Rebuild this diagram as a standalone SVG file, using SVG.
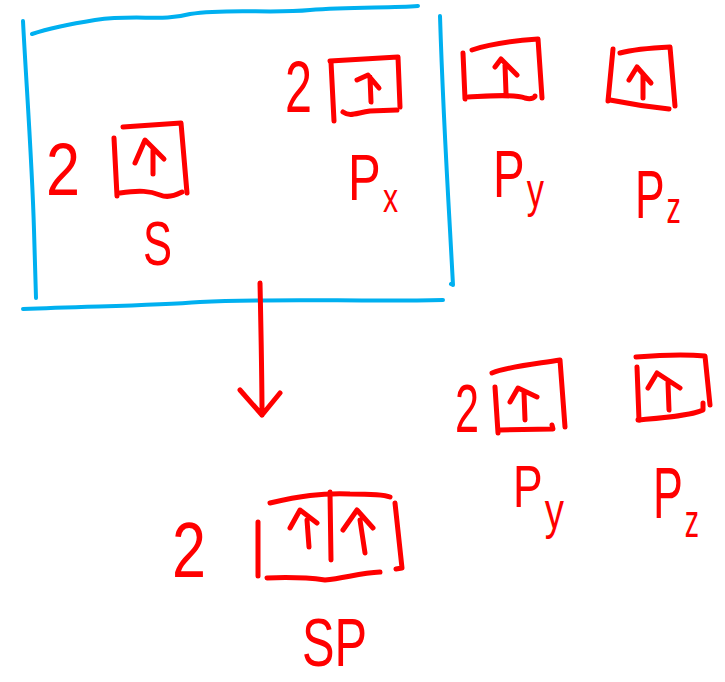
<svg xmlns="http://www.w3.org/2000/svg" width="725" height="682" viewBox="0 0 725 682">
<style>
.r{fill:none;stroke:#ff0000;stroke-width:5;stroke-linecap:round;stroke-linejoin:round}
.b{fill:none;stroke:#00b0f0;stroke-width:4;stroke-linecap:round;stroke-linejoin:round}
text{fill:#ff0000;font-family:"Liberation Sans","DejaVu Sans",sans-serif}
</style>
<rect width="725" height="682" fill="#ffffff"/>
<g id="group-box">
<path class="b" d="M32,34 C50,28 70,24 95,20 C140,14 160,22 190,14 C230,8 270,14 310,10 C350,7 390,8 418,6"/>
<path class="b" d="M23,21 C26,80 32,160 34,230 L36,298"/>
<path class="b" d="M23,309 C90,306 150,306 200,302 C280,298 360,302 443,300"/>
<path class="b" d="M440,16 C442,80 446,160 450,230 L453,285 L451,284"/>
</g>
<g id="orbital-s">
<text x="46" y="195" font-size="74" textLength="34" lengthAdjust="spacingAndGlyphs">2</text>
<path class="r" d="M114,138 L117,196"/>
<path class="r" d="M123,127 L181,123 L187,193"/>
<path class="r" d="M120,193 C140,190 150,191 160,195 C170,199 178,194 182,192"/>
<path class="r" d="M153,150 L153,174 M135,163 L145,140 L164,159"/>
<text x="143" y="265" font-size="63" textLength="29" lengthAdjust="spacingAndGlyphs">S</text>
</g>
<g id="orbital-px">
<text x="285" y="112" font-size="72" textLength="27" lengthAdjust="spacingAndGlyphs">2</text>
<path class="r" d="M331,62 L334,121"/>
<path class="r" d="M330,61 L398,57 L400,107"/>
<path class="r" d="M343,112 C350,117 356,113 370,111 L397,110"/>
<path class="r" d="M370,77 L371,102 M357,80 L368,75 L379,88"/>
<text x="348" y="200" font-size="65" textLength="50" lengthAdjust="spacingAndGlyphs">P<tspan dx="3" dy="12" font-size="40">x</tspan></text>
</g>
<g id="orbital-py">
<path class="r" d="M463,53 L465,99"/>
<path class="r" d="M472,50 C490,44 510,41 538,39 L542,98"/>
<path class="r" d="M468,97 C490,96 515,94 525,98 C532,100 535,97 535,96"/>
<path class="r" d="M505,65 L506,93 M495,67 L501,59 L517,75"/>
<text x="493" y="197" font-size="66" textLength="51" lengthAdjust="spacingAndGlyphs">P<tspan dx="3" dy="10" font-size="48">y</tspan></text>
</g>
<g id="orbital-pz">
<path class="r" d="M613,49 L608,101"/>
<path class="r" d="M620,53 C635,49 650,48 670,47 L675,106"/>
<path class="r" d="M610,100 C630,104 650,107 669,109"/>
<path class="r" d="M643,75 L643,98 M629,80 L637,67 L651,83"/>
<text x="635" y="218" font-size="68" textLength="46" lengthAdjust="spacingAndGlyphs">P<tspan dx="3" dy="5" font-size="44">z</tspan></text>
</g>
<g id="orbital-py2">
<text x="455" y="432" font-size="68" textLength="24" lengthAdjust="spacingAndGlyphs">2</text>
<path class="r" d="M495,387 L498,433"/>
<path class="r" d="M492,373 C510,366 535,364 560,360 L565,427"/>
<path class="r" d="M500,430 L553,429 L552,425"/>
<path class="r" d="M524,393 L525,420 M510,402 L518,388 L537,397"/>
<text x="513" y="507" font-size="60" textLength="51" lengthAdjust="spacingAndGlyphs">P<tspan dx="3" dy="21" font-size="52">y</tspan></text>
</g>
<g id="orbital-pz2">
<path class="r" d="M636,357 C660,355 685,354 705,356 L710,405"/>
<path class="r" d="M637,367 L639,420"/>
<path class="r" d="M638,420 C660,418 690,416 703,410 L703,403"/>
<path class="r" d="M668,383 L669,410 M648,388 L657,373 L680,388"/>
<text x="653" y="518" font-size="72" textLength="46" lengthAdjust="spacingAndGlyphs">P<tspan dx="3" dy="19" font-size="46">z</tspan></text>
</g>
<g id="orbital-sp">
<text x="172" y="577" font-size="78" textLength="34" lengthAdjust="spacingAndGlyphs">2</text>
<path class="r" d="M258,522 L258,576"/>
<path class="r" d="M270,503 C300,496 320,493 350,494 C370,494 385,495 390,497"/>
<path class="r" d="M330,492 L331,560"/>
<path class="r" d="M395,503 L402,568 L396,569"/>
<path class="r" d="M267,578 C290,577 310,578 325,580 C345,578 360,573 380,572"/>
<path class="r" d="M307,520 L309,547 M290,528 L300,510 L317,523"/>
<path class="r" d="M360,520 L365,553 M343,530 L357,510 L373,528"/>
<text x="302" y="666" font-size="68" textLength="65" lengthAdjust="spacingAndGlyphs">SP</text>
</g>
<g id="connectors">
<path class="r" d="M260,283 C261,330 262,380 262,415 M240,390 L262,415 L280,393"/>
</g>
</svg>
